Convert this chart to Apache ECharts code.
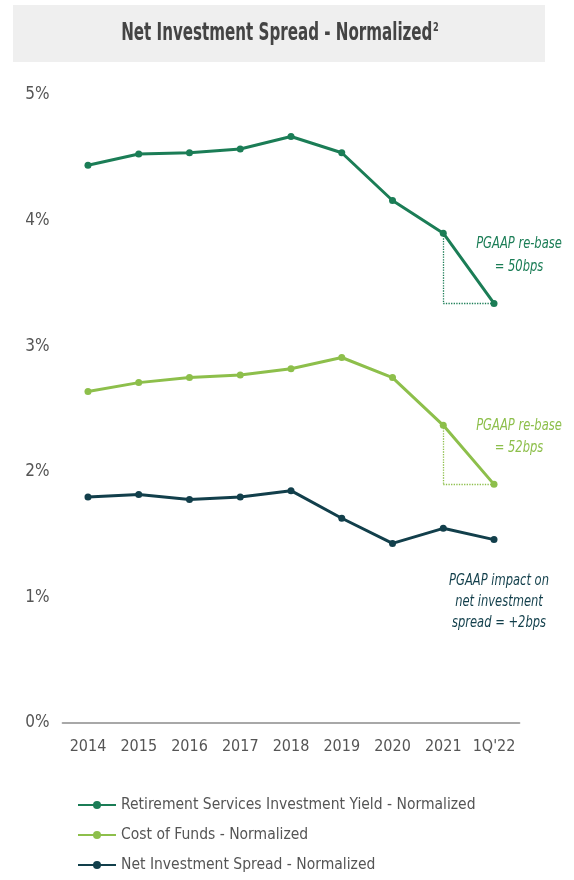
<!DOCTYPE html>
<html>
<head>
<meta charset="utf-8">
<script src="https://cdn.jsdelivr.net/npm/echarts@6/dist/echarts.min.js"></script>
<style>
  html, body { margin: 0; padding: 0; background: #fff; }
  #chart { width: 574px; height: 880px; }
</style>
</head>
<body>
<div id="chart"></div>
<script>
const categories = ["2014", "2015", "2016", "2017", "2018", "2019", "2020", "2021", "1Q'22"];
const yieldValues = [4.44, 4.53, 4.54, 4.57, 4.67, 4.54, 4.16, 3.90, 3.34];
const costValues = [2.64, 2.71, 2.75, 2.77, 2.82, 2.91, 2.75, 2.37, 1.90];
const spreadValues = [1.80, 1.82, 1.78, 1.80, 1.85, 1.63, 1.43, 1.55, 1.46];
const yTicks = [0, 1, 2, 3, 4, 5];

const font = "'Liberation Sans Narrow', 'DejaVu Sans Condensed', sans-serif";
const cYield = "#1b7d56";
const cCost = "#8dbf4b";
const cSpread = "#123f4b";

// dotted "re-base" step from the 2021 point down to the 1Q'22 level
const rebase = (vals, color) => {
  const a = categories[7], b = categories[8];
  return {
    silent: true,
    symbol: "none",
    label: { show: false },
    lineStyle: { type: "dotted", width: 1.3, color },
    data: [
      [{ coord: [a, vals[7]] }, { coord: [a, vals[8]] }],
      [{ coord: [a, vals[8]] }, { coord: [b, vals[8]] }],
    ],
  };
};

const chart = echarts.init(document.getElementById("chart"));

const lineSeries = (name, data, color, mark) => ({
  name,
  type: "line",
  data,
  symbol: "circle",
  symbolSize: 7,
  lineStyle: { width: 3, color },
  itemStyle: { color },
  markLine: mark,
});

// narrow italic note, squeezed horizontally to mimic a condensed face
const note = (x, y, text, color, lh) => ({
  type: "text",
  x,
  y,
  scaleX: 0.8,
  style: {
    text,
    align: "center",
    verticalAlign: "middle",
    fontFamily: font,
    fontStyle: "italic",
    fontSize: 16,
    lineHeight: lh,
    fill: color,
  },
});

chart.setOption({
  animation: false,
  textStyle: { fontFamily: font },
  grid: { left: 62.6, right: 54.6, top: 95, bottom: 157 },
  xAxis: {
    type: "category",
    data: categories,
    axisTick: { show: false },
    axisLine: { lineStyle: { color: "#a8a8a8", width: 2 } },
    axisLabel: { color: "#555", fontSize: 16, margin: 16, interval: 0, fontFamily: font },
  },
  yAxis: {
    type: "value",
    min: yTicks[0],
    max: yTicks[yTicks.length - 1],
    interval: 1,
    splitLine: { show: false },
    axisLine: { show: false },
    axisTick: { show: false },
    axisLabel: {
      color: "#555",
      fontSize: 17,
      margin: 13,
      fontFamily: font,
      formatter: (v) => v + "%",
    },
  },
  legend: {
    orient: "vertical",
    left: 72,
    top: 792,
    itemGap: 14,
    itemWidth: 38,
    itemHeight: 10,
    textStyle: { color: "#555", fontSize: 15.5, fontFamily: font },
    data: [
      "Retirement Services Investment Yield - Normalized",
      "Cost of Funds - Normalized",
      "Net Investment Spread - Normalized",
    ],
  },
  graphic: [
    {
      type: "rect",
      shape: { x: 13, y: 5, width: 532, height: 57 },
      style: { fill: "#efefef" },
      z: -1,
    },
    {
      type: "text",
      x: 280,
      y: 34,
      scaleX: 0.7,
      style: {
        text: "{t|Net Investment Spread - Normalized}{s|2}",
        align: "center",
        verticalAlign: "middle",
        rich: {
          t: { fontFamily: font, fontSize: 24, fontWeight: "bold", fill: "#444" },
          s: { fontFamily: font, fontSize: 13, fontWeight: "bold", fill: "#444", verticalAlign: "top", padding: [0, 0, 13, 1] },
        },
      },
    },
    note(519, 255, "PGAAP re-base\n= 50bps", cYield, 23),
    note(519, 437, "PGAAP re-base\n= 52bps", cCost, 22),
    note(499, 602, "PGAAP impact on\nnet investment\nspread = +2bps", cSpread, 21),
  ],
  series: [
    lineSeries("Retirement Services Investment Yield - Normalized", yieldValues, cYield, rebase(yieldValues, cYield)),
    lineSeries("Cost of Funds - Normalized", costValues, cCost, rebase(costValues, cCost)),
    lineSeries("Net Investment Spread - Normalized", spreadValues, cSpread),
  ],
});
</script>
</body>
</html>
